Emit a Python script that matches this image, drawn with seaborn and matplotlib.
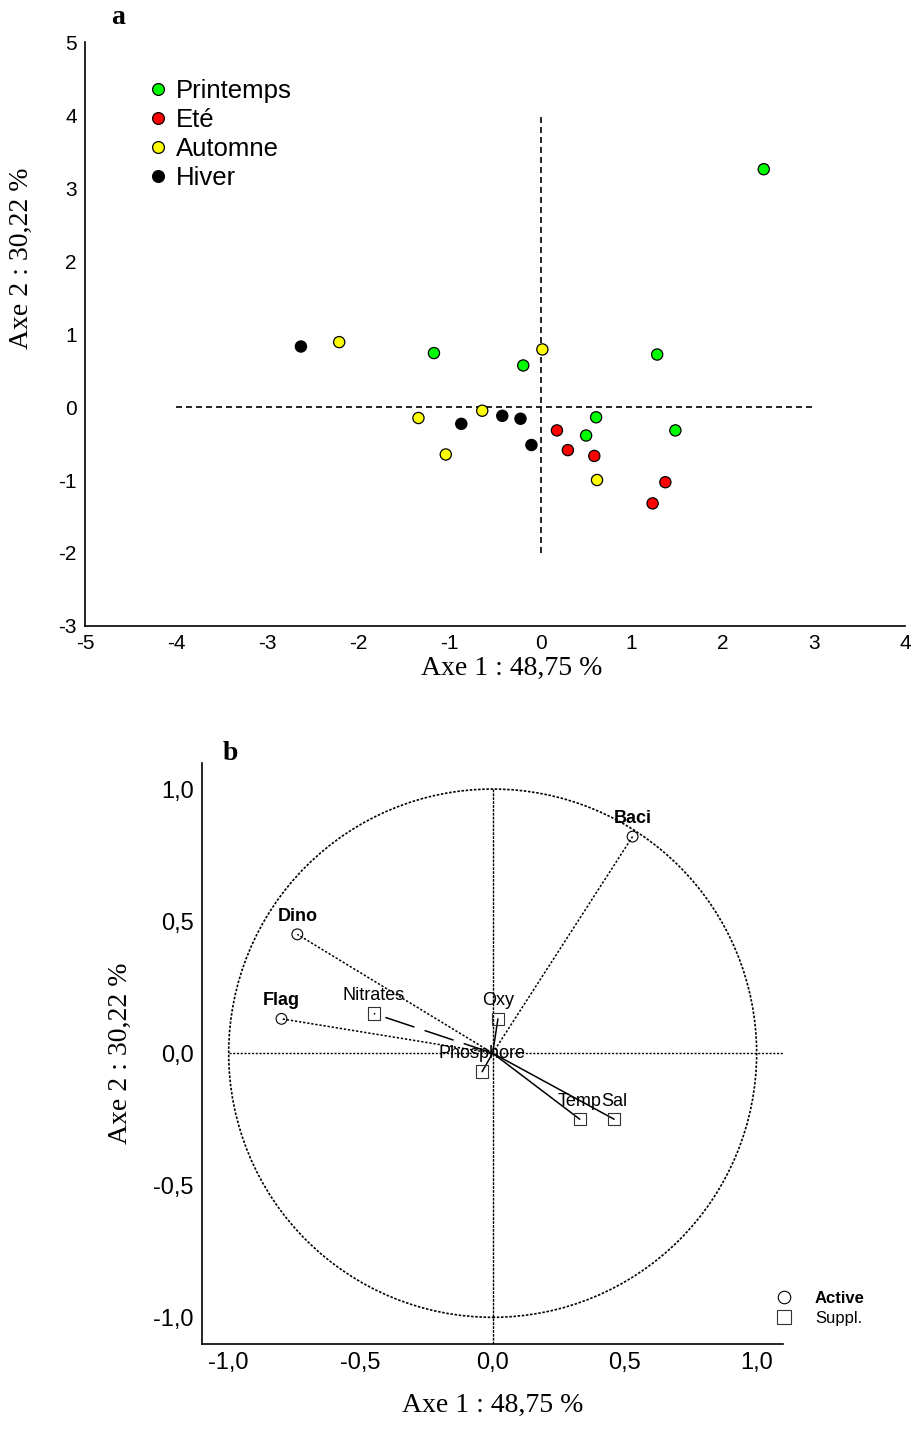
import numpy as np
import pandas as pd
import matplotlib
matplotlib.use("Agg")
import matplotlib.pyplot as plt
from matplotlib.lines import Line2D
from matplotlib.patches import Circle
from matplotlib.ticker import MultipleLocator
import seaborn as sns

# ---- panel a : scores des prelevements sur les axes 1 et 2
saisons = ["Printemps", "Eté", "Automne", "Hiver"]
couleurs = ["#00ff00", "#ff0000", "#ffff00", "#000000"]

printemps_x = [2.45, -0.19, 1.28, -1.17, 0.61, 0.50, 1.48]
printemps_y = [3.26, 0.57, 0.72, 0.74, -0.14, -0.39, -0.32]
ete_x = [0.18, 0.30, 0.59, 1.37, 1.23]
ete_y = [-0.32, -0.59, -0.67, -1.03, -1.32]
automne_x = [0.02, -2.21, -1.34, -0.64, -1.04, 0.62]
automne_y = [0.79, 0.89, -0.15, -0.05, -0.65, -1.00]
hiver_x = [-2.63, -0.87, -0.42, -0.22, -0.10]
hiver_y = [0.83, -0.23, -0.12, -0.16, -0.52]

# ---- panel b : cercle des correlations
variables = ["Baci", "Dino", "Flag", "Nitrates", "Oxy", "Phosphore", "Temp", "Sal"]
var_x = [0.53, -0.74, -0.80, -0.45, 0.02, -0.04, 0.33, 0.46]
var_y = [0.82, 0.45, 0.13, 0.15, 0.13, -0.07, -0.25, -0.25]
statut = ["Active", "Active", "Active", "Suppl.", "Suppl.", "Suppl.", "Suppl.", "Suppl."]

tick_b = [-1.0, -0.5, 0.0, 0.5, 1.0]
tick_b_labels = ["-1,0", "-0,5", "0,0", "0,5", "1,0"]

df_a = pd.concat([
    pd.DataFrame({"x": printemps_x, "y": printemps_y, "saison": "Printemps"}),
    pd.DataFrame({"x": ete_x, "y": ete_y, "saison": "Eté"}),
    pd.DataFrame({"x": automne_x, "y": automne_y, "saison": "Automne"}),
    pd.DataFrame({"x": hiver_x, "y": hiver_y, "saison": "Hiver"}),
], ignore_index=True)
df_b = pd.DataFrame({"var": variables, "x": var_x, "y": var_y, "statut": statut})

sns.set_style("white")
plt.rcParams["font.family"] = ["Liberation Sans", "DejaVu Sans"]
plt.rcParams["axes.unicode_minus"] = False
for k in ["text.color", "axes.labelcolor", "xtick.color", "ytick.color"]:
    plt.rcParams[k] = "black"

SERIF = ["Liberation Serif", "DejaVu Serif"]

fig = plt.figure(figsize=(9.12, 14.33), dpi=100)

# ================= panel a
ax1 = fig.add_axes([0.0932, 0.5632, 0.8991, 0.4073])
ax1.plot([-4, 3], [0, 0], ls=(0, (3.6, 2.4)), lw=1.2, color="k", zorder=1)
ax1.plot([0, 0], [-2, 4], ls=(0, (3.6, 2.4)), lw=1.2, color="k", zorder=1)
sns.scatterplot(data=df_a, x="x", y="y", hue="saison", hue_order=saisons,
                palette=couleurs, s=65, edgecolor="k", linewidth=0.9,
                legend=False, ax=ax1, zorder=3)

ax1.set_xlim(-5, 4)
ax1.set_ylim(-3, 5)
ax1.set_xticks(range(-5, 5))
ax1.set_yticks(range(-3, 6))
ax1.tick_params(direction="in", length=4, width=1, labelsize=15, pad=6)
for s in ["top", "right"]:
    ax1.spines[s].set_visible(False)
for s in ["left", "bottom"]:
    ax1.spines[s].set_linewidth(1.2)
    ax1.spines[s].set_color("k")
ax1.set_xlabel("Axe 1 : 48,75 %", family=SERIF, fontsize=20)
ax1.set_ylabel("Axe 2 : 30,22 %", family=SERIF, fontsize=20)
ax1.xaxis.set_label_coords(0.52, -0.052)
ax1.yaxis.set_label_coords(-0.062, 0.63)

handles = [Line2D([], [], ls="", marker="o", ms=8.5, mfc=c, mec="k", mew=0.9)
           for c in couleurs]
ax1.legend(handles, saisons, loc="upper left", bbox_to_anchor=(0.08, 0.937),
           frameon=False, fontsize=18.5, handlelength=0.55, handletextpad=0.42,
           labelspacing=0.2, borderpad=0, borderaxespad=0)
fig.text(118 / 912, 1 - 18 / 1433, "a", family=SERIF, fontsize=20,
         fontweight="bold", ha="center", va="center")

# ================= panel b
ax2 = fig.add_axes([0.2218, 0.0623, 0.6368, 0.4055])
ax2.add_patch(Circle((0, 0), 1, fill=False, ls=(0, (1.5, 1)), lw=1.2, color="k"))
ax2.plot([-1, 1.1], [0, 0], ls=(0, (1.5, 1.2)), lw=1, color="k")
ax2.plot([0, 0], [1, -1.1], ls=(0, (2, 0.8)), lw=1, color="k")

ligne = {"Active": (0, (1.5, 1.2)), "Suppl.": "-"}
for _, r in df_b.iterrows():
    ls = (0, (20, 7)) if r["var"] == "Nitrates" else ligne[r["statut"]]
    ax2.plot([0, r["x"]], [0, r["y"]], ls=ls, lw=1.1, color="k", zorder=2)

sns.scatterplot(data=df_b[df_b["statut"] == "Active"], x="x", y="y",
                marker="o", s=60, facecolors="none", edgecolor="k",
                linewidth=0.8, legend=False, ax=ax2, zorder=3)
sns.scatterplot(data=df_b[df_b["statut"] == "Suppl."], x="x", y="y",
                marker="s", s=80, facecolors="none", edgecolor="#333333",
                linewidth=0.8, legend=False, ax=ax2, zorder=3)

for _, r in df_b.iterrows():
    ax2.annotate(r["var"], (r["x"], r["y"]), xytext=(0, 13),
                 textcoords="offset points", ha="center", va="center",
                 fontsize=13,
                 fontweight="bold" if r["statut"] == "Active" else "normal")

ax2.set_xlim(-1.1, 1.1)
ax2.set_ylim(-1.1, 1.1)
ax2.set_xticks(tick_b)
ax2.set_xticklabels(tick_b_labels)
ax2.set_yticks(tick_b)
ax2.set_yticklabels(tick_b_labels)
ax2.xaxis.set_minor_locator(MultipleLocator(0.1))
ax2.yaxis.set_minor_locator(MultipleLocator(0.1))
ax2.tick_params(which="both", direction="in", length=4, width=1, labelsize=17, pad=6)
for s in ["top", "right"]:
    ax2.spines[s].set_visible(False)
for s in ["left", "bottom"]:
    ax2.spines[s].set_linewidth(1.2)
    ax2.spines[s].set_color("k")
ax2.set_xlabel("Axe 1 : 48,75 %", family=SERIF, fontsize=20)
ax2.set_ylabel("Axe 2 : 30,22 %", family=SERIF, fontsize=20)
ax2.xaxis.set_label_coords(0.5, -0.085)
ax2.yaxis.set_label_coords(-0.12, 0.5)

leg_handles = [Line2D([], [], ls="", marker="o", ms=9, mfc="none", mec="k", mew=0.8),
               Line2D([], [], ls="", marker="s", ms=10, mfc="none", mec="#333333", mew=0.8)]
leg = ax2.legend(leg_handles, ["Active", "Suppl."], loc="center left",
                 bbox_to_anchor=(0.987, 0.061), frameon=False, fontsize=12,
                 handlelength=1, handletextpad=1.36, labelspacing=0.3,
                 borderpad=0, borderaxespad=0)
leg.get_texts()[0].set_fontweight("bold")
fig.text(230 / 912, 1 - 754 / 1433, "b", family=SERIF, fontsize=20,
         fontweight="bold", ha="center", va="center")

fig.savefig("out.png", dpi=100)
